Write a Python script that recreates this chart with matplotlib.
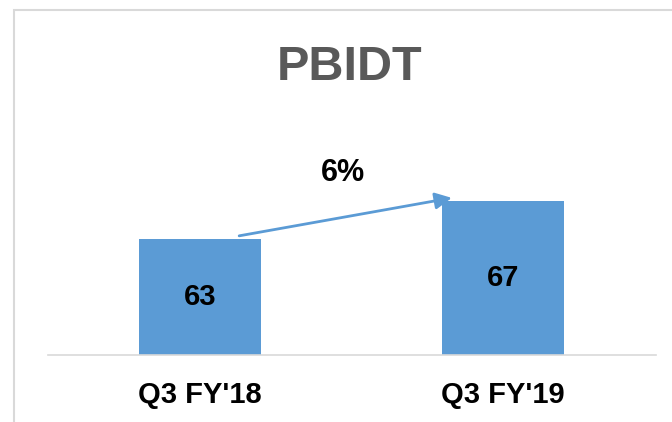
import matplotlib.pyplot as plt
from matplotlib.patches import Rectangle

categories = ["Q3 FY'18", "Q3 FY'19"]
values = [63, 67]

blue = '#5B9BD5'
grid = '#D9D9D9'

plt.rcParams['font.family'] = ['Liberation Sans', 'DejaVu Sans']

fig = plt.figure(figsize=(6.72, 4.22), dpi=100)
# chart-area border (light gray, cropped on right/bottom)
fig.patches.append(Rectangle((14/672, -0.1), 1.0, 1.1 - 10/422, transform=fig.transFigure,
                             fill=False, edgecolor=grid, lw=1.5))

ax = fig.add_axes([48/672, 67/422, 608/672, 225/422])
x = list(range(len(categories)))
ax.bar(x, values, width=0.403, color=blue)
ax.set_xlim(-0.502, 1.505)
ax.set_ylim(50.8, 74.5)

for s in ['top', 'left', 'right']:
    ax.spines[s].set_visible(False)
ax.spines['bottom'].set_color(grid)
ax.spines['bottom'].set_linewidth(1.2)
ax.set_yticks([])
ax.set_xticks(x)
ax.set_xticklabels(categories, fontsize=21, fontweight='bold')
ax.tick_params(axis='x', length=0, pad=19)

# value labels centred in visible part of bar
lo = ax.get_ylim()[0]
for xi, v in zip(x, values):
    ax.text(xi, (lo + v) / 2, str(v), ha='center', va='center',
            fontsize=21, fontweight='bold', color='black')

# growth arrow
growth = (values[1] - values[0]) / values[0] * 100
ax.annotate('', xy=(x[1] - 0.16, values[1] + 0.4), xytext=(x[0] + 0.12, values[0] + 0.3),
            arrowprops=dict(arrowstyle='-|>,head_length=1.0,head_width=0.5', color=blue, lw=2))
ax.text(0.47, 70.0, f'{growth:.0f}%', ha='center', va='center',
        fontsize=22, fontweight='bold', color='black')

fig.text(350/672, 1 - 80/422, 'PBIDT', ha='center', va='baseline',
         fontsize=35, fontweight='bold', color='#595959')

fig.savefig('out.png', dpi=100)
